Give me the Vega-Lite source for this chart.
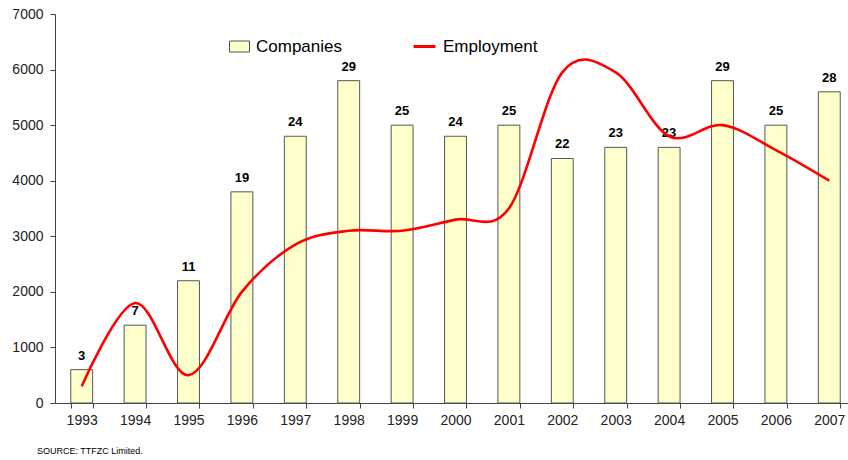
{
  "$schema": "https://vega.github.io/schema/vega-lite/v6.json",
  "width": 793,
  "height": 389,
  "autosize": {"type": "none"},
  "padding": {"left": 55, "top": 14, "right": 0, "bottom": 57},
  "background": "white",
  "config": {
    "view": {"stroke": null},
    "font": "Liberation Sans"
  },
  "title": {
    "text": "SOURCE: TTFZC Limited.",
    "orient": "bottom",
    "anchor": "start",
    "frame": "group",
    "dx": -18,
    "offset": 20,
    "fontSize": 9,
    "fontWeight": "normal",
    "color": "#000000",
    "font": "Liberation Sans"
  },
  "data": {
    "values": [
      {"year": "1993", "companies": 3, "employment": 300},
      {"year": "1994", "companies": 7, "employment": 1800},
      {"year": "1995", "companies": 11, "employment": 500},
      {"year": "1996", "companies": 19, "employment": 2000},
      {"year": "1997", "companies": 24, "employment": 2850},
      {"year": "1998", "companies": 29, "employment": 3100},
      {"year": "1999", "companies": 25, "employment": 3100},
      {"year": "2000", "companies": 24, "employment": 3300},
      {"year": "2001", "companies": 25, "employment": 3500},
      {"year": "2002", "companies": 22, "employment": 5950},
      {"year": "2003", "companies": 23, "employment": 5950},
      {"year": "2004", "companies": 23, "employment": 4800},
      {"year": "2005", "companies": 29, "employment": 5000},
      {"year": "2006", "companies": 25, "employment": 4550},
      {"year": "2007", "companies": 28, "employment": 4000}
    ]
  },
  "encoding": {
    "x": {
      "field": "year",
      "type": "ordinal",
      "scale": {"type": "band", "range": [0, 801], "paddingInner": 0.59, "paddingOuter": 0.295},
      "axis": {
        "title": null,
        "labelAngle": 0,
        "labelFontSize": 14,
        "labelColor": "#222222",
        "labelFont": "Liberation Sans",
        "labelPadding": 5,
        "tickSize": 5,
        "tickBand": "extent",
        "tickColor": "#444444",
        "domainColor": "#444444",
        "grid": false
      }
    }
  },
  "layer": [
    {
      "mark": {"type": "bar", "stroke": "#555555", "strokeWidth": 1},
      "encoding": {
        "y": {"field": "companies", "type": "quantitative", "scale": {"domain": [0, 35]}, "axis": null},
        "fill": {
          "datum": "Companies",
          "scale": {"range": ["#FFFFCC"]},
          "legend": {
            "title": null,
            "orient": "none",
            "legendX": 174,
            "legendY": 22,
            "padding": 0,
            "symbolType": "M-1,-0.55H1V0.55H-1Z",
            "symbolSize": 400,
            "symbolStrokeColor": "#555555",
            "symbolStrokeWidth": 1,
            "labelFontSize": 17,
            "labelFont": "Liberation Sans",
            "labelColor": "#000000",
            "labelOffset": 6
          }
        }
      }
    },
    {
      "mark": {"type": "text", "fontSize": 13, "fontWeight": "bold", "baseline": "alphabetic", "dy": -10, "color": "#000000", "font": "Liberation Sans"},
      "encoding": {
        "y": {"field": "companies", "type": "quantitative", "scale": {"domain": [0, 35]}, "axis": null},
        "text": {"field": "companies", "type": "quantitative"}
      }
    },
    {
      "mark": {"type": "line", "interpolate": "cardinal", "tension": 0, "strokeWidth": 2.6},
      "encoding": {
        "y": {
          "field": "employment",
          "type": "quantitative",
          "scale": {"domain": [0, 7000]},
          "axis": {
            "orient": "left",
            "title": null,
            "format": "d",
            "values": [0, 1000, 2000, 3000, 4000, 5000, 6000, 7000],
            "labelFontSize": 14,
            "labelColor": "#222222",
            "labelFont": "Liberation Sans",
            "labelPadding": 7,
            "tickSize": 5,
            "tickColor": "#444444",
            "domainColor": "#444444",
            "grid": false
          }
        },
        "stroke": {
          "datum": "Employment",
          "scale": {"range": ["#FF0000"]},
          "legend": {
            "title": null,
            "orient": "none",
            "legendX": 357,
            "legendY": 20,
            "padding": 0,
            "symbolType": "stroke",
            "symbolSize": 484,
            "symbolStrokeWidth": 3,
            "labelFontSize": 17,
            "labelFont": "Liberation Sans",
            "labelColor": "#000000",
            "labelOffset": 6
          }
        }
      }
    }
  ],
  "resolve": {"scale": {"y": "independent"}}
}
